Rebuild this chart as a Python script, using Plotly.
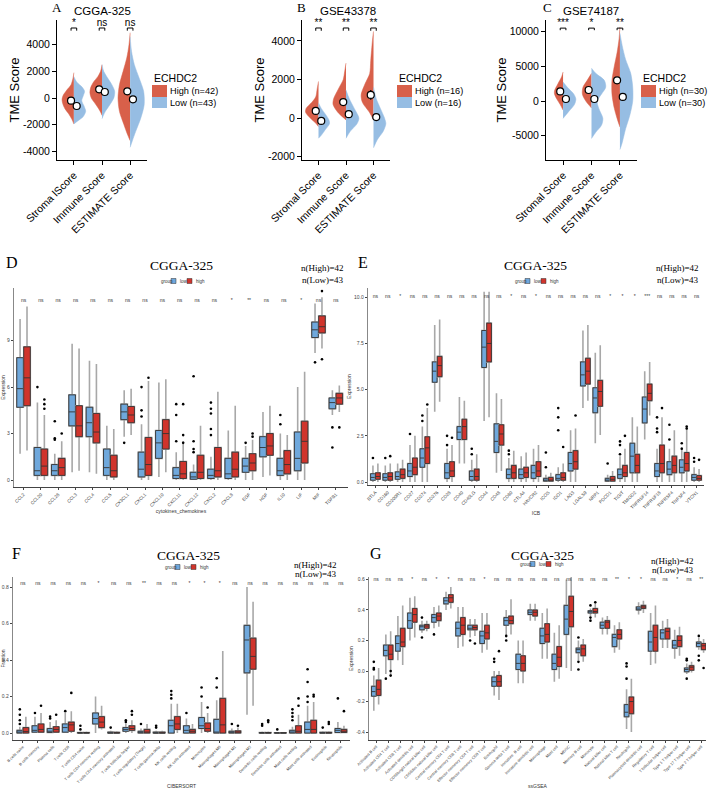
import plotly.graph_objects as go

W, H = 708, 789
def fx(px): return px / W
def fy(py): return 1 - py / H

RED = '#D8604A'
BLUE = '#96BDE3'
BOX_BLUE = '#6FA8DC'
BOX_RED = '#D0342C'
SANS = 'Liberation Sans'
SERIF = 'Liberation Serif'

# ---------------- Panels A-C : split violins ----------------
cats_A = ["Stroma lScore", "Immune Score", "ESTIMATE Score"]
cats_BC = ["Stromal Score", "Immune Score", "ESTIMATE Score"]

# density profiles: levels (score) and half widths (category units)
A_high_lv = [[1900, 1500, 1000, 600, 200, -100, -400, -800, -1200, -1600, -1950],
             [2500, 2000, 1600, 1200, 800, 400, 0, -400, -800, -1100, -1300],
             [4900, 4000, 3000, 2000, 1000, 0, -1000, -2000, -2700, -3200]]
A_high_w = [[0, 0.03, 0.1, 0.25, 0.38, 0.42, 0.4, 0.32, 0.18, 0.07, 0],
            [0, 0.05, 0.15, 0.3, 0.4, 0.43, 0.38, 0.25, 0.12, 0.04, 0],
            [0, 0.04, 0.12, 0.25, 0.38, 0.43, 0.38, 0.22, 0.1, 0]]
A_low_lv = [[1600, 1200, 800, 500, 200, -200, -600, -1000, -1400, -1700, -1950],
            [2500, 2000, 1500, 1000, 500, 0, -500, -1000, -1300, -1550],
            [4600, 3500, 2500, 1500, 500, -500, -1500, -2500, -3200, -3700]]
A_low_w = [[0, 0.1, 0.3, 0.38, 0.34, 0.28, 0.36, 0.42, 0.33, 0.15, 0],
           [0, 0.06, 0.2, 0.35, 0.45, 0.42, 0.28, 0.12, 0.05, 0],
           [0, 0.05, 0.15, 0.32, 0.48, 0.5, 0.38, 0.2, 0.08, 0]]
A_high_mean = [-200, 650, 500]
A_high_err = [150, 150, 250]
A_low_mean = [-600, 450, -100]
A_low_err = [130, 130, 200]
A_sig = ["*", "ns", "ns"]

B_high_lv = [[1900, 1500, 1100, 800, 500, 300, 0, -300, -450],
             [2850, 2400, 2000, 1500, 1000, 700, 300, 0, -100],
             [4500, 4000, 3000, 2300, 1800, 1200, 800, 300, -100]]
B_high_w = [[0, 0.05, 0.1, 0.25, 0.45, 0.47, 0.3, 0.08, 0],
            [0, 0.05, 0.1, 0.28, 0.45, 0.47, 0.3, 0.08, 0],
            [0, 0.04, 0.1, 0.14, 0.3, 0.45, 0.4, 0.15, 0]]
B_low_lv = [[780, 500, 200, -100, -300, -600, -900, -1050],
            [1450, 1000, 500, 0, -300, -700, -1050],
            [1600, 1000, 500, 0, -300, -700, -1100, -1550]]
B_low_w = [[0, 0.1, 0.25, 0.38, 0.4, 0.25, 0.1, 0],
           [0, 0.12, 0.3, 0.47, 0.4, 0.15, 0],
           [0, 0.1, 0.25, 0.4, 0.45, 0.35, 0.15, 0]]
B_high_mean = [370, 830, 1200]
B_high_err = [100, 150, 250]
B_low_mean = [-150, 200, 50]
B_low_err = [100, 100, 200]
B_sig = ["**", "**", "**"]

C_high_lv = [[4200, 3500, 2500, 1500, 1000, 300, -500, -1300],
             [4000, 3000, 2000, 1000, 0, -1000],
             [10700, 9000, 7000, 5000, 3000, 1000, -1000, -2500, -3750]]
C_high_w = [[0, 0.05, 0.18, 0.3, 0.3, 0.22, 0.1, 0],
            [0, 0.15, 0.3, 0.32, 0.2, 0],
            [0, 0.03, 0.1, 0.2, 0.28, 0.28, 0.2, 0.1, 0]]
C_low_lv = [[2750, 2000, 1000, 300, -500, -1500, -2500],
            [4750, 4000, 3000, 2000, 1000, 0, -1000, -2500, -3500, -4500, -5400],
            [9800, 8000, 6000, 4000, 2000, 0, -2000, -4000, -6000, -7000]]
C_low_w = [[0, 0.15, 0.38, 0.45, 0.4, 0.2, 0],
           [0, 0.15, 0.45, 0.5, 0.35, 0.2, 0.25, 0.4, 0.35, 0.15, 0],
           [0, 0.08, 0.2, 0.38, 0.45, 0.45, 0.35, 0.2, 0.08, 0]]
C_high_mean = [1400, 1600, 3000]
C_high_err = [300, 300, 400]
C_low_mean = [300, 300, 600]
C_low_err = [250, 300, 500]
C_sig = ["***", "*", "**"]

# ---------------- Panel D : cytokines/chemokines ----------------
D_cats = ["CCL2", "CCL20", "CCL28", "CCL3", "CCL4", "CCL5", "CX3CL1", "CXCL1", "CXCL10", "CXCL11",
          "CXCL12", "CXCL2", "CXCL8", "EGF", "HGF", "IL10", "LIF", "MIF", "TGFB1"]
D_low_q1 = [4.7, 0.3, 0.3, 3.5, 2.8, 0.3, 3.9, 0.2, 1.4, 0.1, 0.05, 0.1, 0.1, 0.5, 1.5, 0.3, 0.6, 9.2, 4.6]
D_low_med = [5.9, 0.6, 0.6, 4.4, 3.7, 0.8, 4.4, 0.7, 2.4, 0.3, 0.2, 0.3, 0.4, 0.9, 2.1, 0.6, 1.4, 9.7, 5.0]
D_low_q3 = [7.9, 2.1, 1.0, 5.5, 4.7, 2.0, 4.9, 1.8, 3.2, 0.8, 0.5, 0.7, 1.4, 1.4, 2.8, 1.4, 3.1, 10.2, 5.3]
D_low_lo = [1.7, 0.0, 0.0, 0.5, 0.5, 0.0, 2.8, 0.0, 0.2, 0.0, 0.0, 0.0, 0.0, 0.0, 0.2, 0.0, 0.0, 8.2, 4.2]
D_low_hi = [10.4, 5.0, 1.7, 8.8, 7.7, 3.5, 5.8, 3.6, 6.3, 1.8, 1.0, 1.5, 3.2, 2.2, 4.4, 3.0, 6.0, 11.4, 5.8]
D_high_q1 = [4.8, 0.3, 0.3, 2.8, 2.4, 0.2, 3.7, 0.3, 2.0, 0.1, 0.1, 0.2, 0.2, 0.6, 1.6, 0.4, 1.1, 9.5, 4.9]
D_high_med = [6.6, 0.9, 0.8, 3.5, 3.1, 0.6, 4.2, 1.0, 3.0, 0.4, 0.5, 0.6, 0.7, 1.1, 2.2, 1.0, 2.5, 9.9, 5.3]
D_high_q3 = [8.6, 2.0, 1.4, 4.8, 4.3, 1.6, 4.75, 2.75, 3.9, 1.2, 1.6, 2.1, 1.8, 1.7, 3.0, 1.9, 3.8, 10.6, 5.6]
D_high_lo = [1.9, 0.0, 0.0, 0.6, 0.4, 0.0, 2.9, 0.0, 0.5, 0.0, 0.0, 0.0, 0.0, 0.0, 0.3, 0.0, 0.0, 8.5, 4.4]
D_high_hi = [11.2, 4.2, 2.5, 8.5, 7.5, 3.3, 5.9, 6.4, 6.5, 2.5, 3.5, 5.7, 4.8, 2.6, 4.8, 2.9, 7.0, 11.8, 6.1]
D_low_out_idx = [1, 2, 2, 2, 6, 7, 7, 7, 9, 9, 9, 10, 10, 10, 10, 11, 11, 11, 11, 11, 13, 15, 15, 18, 18, 17]
D_low_out_val = [6.0, 2.6, 2.7, 3.8, 2.4, 6.0, 4.5, 4.1, 4.9, 4.2, 2.5, 6.7, 2.5, 2.0, 1.8, 5.0, 4.6, 4.3, 3.3, 2.9, 2.4, 4.2, 3.6, 3.4, 2.1, 7.6]
D_high_out_idx = [1, 1, 1, 2, 7, 9, 9, 9, 13, 13, 18, 17, 17]
D_high_out_val = [5.2, 4.9, 4.6, 3.0, 6.6, 4.9, 2.9, 2.4, 3.0, 2.8, 3.4, 12.2, 7.8]
D_sig = ["ns"] * 12 + ["*", "**", "ns", "ns", "*", "ns", "ns"]

# ---------------- Panel E : ICB ----------------
E_cats = ["BTLA", "CD160", "CD200R1", "CD27", "CD274", "CD276", "CD28", "CD40", "CD40LG", "CD44", "CD48",
          "CD80", "CTLA4", "HAVCR2", "ICOS", "IDO1", "LAG3", "LGALS9", "NRP1", "PDCD1", "TIGIT", "TMIGD2",
          "TNFRSF14", "TNFRSF18", "TNFRSF4", "TNFSF4", "VTCN1"]
E_low_q1 = [0.1, 0.1, 0.15, 0.3, 0.8, 5.4, 0.2, 2.3, 0.1, 6.2, 1.6, 0.2, 0.2, 0.2, 0.05, 0.1, 0.6, 5.2, 3.75, 0.05, 0.2, 0.5, 3.2, 0.3, 0.4, 0.5, 0.1]
E_low_med = [0.25, 0.25, 0.3, 0.6, 1.3, 6.0, 0.5, 2.7, 0.3, 7.3, 2.2, 0.4, 0.4, 0.5, 0.1, 0.2, 1.0, 5.8, 4.55, 0.1, 0.4, 1.4, 3.95, 0.6, 0.7, 0.8, 0.25]
E_low_q3 = [0.45, 0.45, 0.55, 1.0, 1.8, 6.5, 1.0, 3.0, 0.6, 8.2, 3.15, 0.7, 0.7, 0.9, 0.2, 0.4, 1.6, 6.5, 5.1, 0.2, 0.7, 2.1, 4.6, 1.0, 1.1, 1.2, 0.4]
E_low_lo = [0, 0, 0, 0, 0, 3.8, 0, 1.0, 0, 3.3, 0.5, 0, 0, 0, 0, 0, 0, 4.0, 2.1, 0, 0, 0, 2.3, 0, 0, 0, 0]
E_low_hi = [0.9, 0.9, 1.0, 2.0, 3.0, 8.5, 1.8, 4.6, 1.2, 10.3, 4.8, 1.3, 1.4, 1.8, 0.4, 0.8, 2.8, 8.2, 7.0, 0.4, 1.4, 3.5, 6.0, 1.8, 1.8, 1.9, 0.8]
E_high_q1 = [0.15, 0.1, 0.2, 0.4, 1.0, 5.7, 0.3, 2.3, 0.1, 6.5, 2.0, 0.2, 0.25, 0.3, 0.05, 0.1, 0.7, 5.3, 4.1, 0.05, 0.3, 0.5, 4.4, 0.5, 0.5, 0.6, 0.1]
E_high_med = [0.3, 0.3, 0.4, 0.8, 1.85, 6.3, 0.6, 3.0, 0.3, 7.5, 2.6, 0.5, 0.5, 0.6, 0.1, 0.25, 1.1, 6.0, 4.9, 0.15, 0.5, 0.9, 4.8, 1.0, 0.9, 1.0, 0.2]
E_high_q3 = [0.5, 0.5, 0.7, 1.3, 2.45, 6.8, 1.1, 3.4, 0.7, 8.6, 3.1, 0.9, 0.8, 1.1, 0.25, 0.5, 1.7, 6.7, 5.5, 0.3, 0.9, 1.5, 5.3, 2.0, 1.4, 1.6, 0.35]
E_high_lo = [0, 0, 0, 0, 0, 4.35, 0, 1.0, 0, 3.5, 0.6, 0, 0, 0, 0, 0, 0, 4.4, 2.55, 0, 0, 0, 3.6, 0, 0, 0, 0]
E_high_hi = [1.0, 1.0, 1.2, 2.5, 4.0, 8.8, 2.0, 4.4, 1.5, 10.3, 4.5, 1.7, 1.6, 2.0, 0.5, 1.0, 2.9, 8.5, 7.4, 0.6, 1.8, 3.0, 6.5, 3.5, 2.8, 2.9, 0.7]
E_low_out_idx = [0, 1, 3, 4, 4, 6, 6, 8, 8, 11, 11, 14, 14, 15, 15, 15, 19, 20, 20, 20, 23, 23, 23, 24, 24, 25, 25, 26, 26]
E_low_out_val = [1.3, 1.3, 2.6, 3.3, 3.6, 2.5, 2.0, 1.5, 1.8, 1.5, 1.7, 0.8, 1.6, 2.8, 4.0, 3.5, 1.0, 2.2, 2.0, 1.5, 3.5, 2.9, 2.7, 3.1, 2.3, 2.1, 1.8, 1.3, 1.1]
E_high_out_idx = [1, 4, 6, 15, 16, 20, 23, 25, 25, 26]
E_high_out_val = [1.4, 4.2, 2.4, 1.9, 3.6, 2.5, 4.0, 2.9, 3.0, 1.2]
E_sig = ["ns", "ns", "*", "ns", "ns", "ns", "ns", "ns", "ns", "ns", "ns", "*", "ns", "*", "ns", "ns",
         "ns", "ns", "ns", "*", "*", "*", "***", "ns", "ns", "ns", "ns"]

# ---------------- Panel F : CIBERSORT ----------------
F_cats = ["B cells naive", "B cells memory", "Plasma cells", "T cells CD8", "T cells CD4 naive",
          "T cells CD4 memory resting", "T cells CD4 memory activated", "T cells follicular helper",
          "T cells regulatory (Tregs)", "T cells gamma delta", "NK cells resting", "NK cells activated",
          "Monocytes", "Macrophages M0", "Macrophages M1", "Macrophages M2", "Dendritic cells resting",
          "Dendritic cells activated", "Mast cells resting", "Mast cells activated", "Eosinophils", "Neutrophils"]
F_low_q1 = [0, 0.005, 0.003, 0.005, 0, 0.05, 0, 0.01, 0, 0, 0, 0, 0.025, 0, 0, 0.33, 0, 0, 0, 0, 0, 0.003]
F_low_med = [0.005, 0.015, 0.01, 0.03, 0, 0.08, 0, 0.02, 0.003, 0, 0.04, 0.015, 0.04, 0.005, 0.003, 0.51, 0, 0, 0.005, 0.02, 0, 0.015]
F_low_q3 = [0.015, 0.04, 0.025, 0.05, 0.003, 0.11, 0.005, 0.03, 0.01, 0.005, 0.07, 0.04, 0.085, 0.075, 0.01, 0.59, 0.003, 0.002, 0.015, 0.06, 0.004, 0.025]
F_low_lo = [0, 0, 0, 0, 0, 0.0, 0, 0, 0, 0, 0, 0, 0, 0, 0, 0.1, 0, 0, 0, 0, 0, 0]
F_low_hi = [0.035, 0.09, 0.06, 0.11, 0.008, 0.2, 0.012, 0.05, 0.025, 0.012, 0.16, 0.08, 0.17, 0.18, 0.025, 0.8, 0.008, 0.005, 0.035, 0.15, 0.01, 0.06]
F_high_q1 = [0, 0.005, 0.005, 0.01, 0, 0.03, 0, 0.015, 0, 0, 0.02, 0, 0.01, 0, 0, 0.35, 0, 0, 0, 0, 0, 0.003]
F_high_med = [0.008, 0.02, 0.02, 0.045, 0, 0.06, 0, 0.025, 0.005, 0, 0.05, 0.01, 0.025, 0.045, 0.005, 0.42, 0, 0, 0.01, 0.02, 0, 0.01]
F_high_q3 = [0.03, 0.05, 0.035, 0.06, 0.003, 0.09, 0.004, 0.04, 0.02, 0.005, 0.09, 0.02, 0.055, 0.19, 0.012, 0.52, 0.003, 0.002, 0.04, 0.07, 0.004, 0.02]
F_high_lo = [0, 0, 0, 0, 0, 0.02, 0, 0, 0, 0, 0, 0, 0, 0, 0, 0.15, 0, 0, 0, 0, 0, 0]
F_high_hi = [0.09, 0.11, 0.07, 0.12, 0.008, 0.15, 0.01, 0.07, 0.05, 0.012, 0.16, 0.05, 0.11, 0.45, 0.03, 0.72, 0.008, 0.005, 0.1, 0.17, 0.01, 0.04]
F_low_out_idx = [0, 0, 0, 0, 1, 2, 2, 3, 4, 4, 6, 7, 7, 8, 9, 9, 10, 10, 10, 11, 12, 12, 13, 13, 14, 16, 16, 17, 18, 18, 18, 18, 19, 19, 19, 19, 20, 21]
F_low_out_val = [0.05, 0.07, 0.1, 0.13, 0.11, 0.08, 0.09, 0.12, 0.02, 0.04, 0.03, 0.06, 0.07, 0.05, 0.03, 0.04, 0.19, 0.21, 0.23, 0.11, 0.2, 0.25, 0.25, 0.3, 0.05, 0.04, 0.05, 0.02, 0.07, 0.09, 0.11, 0.13, 0.17, 0.2, 0.28, 0.35, 0.03, 0.19]
F_high_out_idx = [1, 2, 3, 7, 7, 12, 14, 16, 16, 18, 18, 19, 19, 20, 20, 21]
F_high_out_val = [0.15, 0.1, 0.22, 0.1, 0.12, 0.14, 0.04, 0.06, 0.07, 0.15, 0.19, 0.2, 0.21, 0.05, 0.06, 0.12]
F_sig = ["ns", "ns", "ns", "ns", "ns", "*", "ns", "ns", "**", "ns", "ns", "*", "*", "*", "ns", "ns",
         "ns", "ns", "ns", "ns", "ns", "ns"]

# ---------------- Panel G : ssGSEA ----------------
G_cats = ["Activated B cell", "Activated CD4 T cell", "Activated CD8 T cell", "Activated dendritic cell",
          "CD56bright natural killer cell", "CD56dim natural killer cell", "Central memory CD4 T cell",
          "Central memory CD8 T cell", "Effector memeory CD4 T cell", "Effector memeory CD8 T cell",
          "Eosinophil", "Gamma delta T cell", "Immature  B cell", "Immature dendritic cell", "Macrophage",
          "Mast cell", "MDSC", "Memory B cell", "Monocyte", "Natural killer cell", "Natural killer T cell",
          "Neutrophil", "Plasmacytoid dendritic cell", "Regulatory T cell", "T follicular helper cell",
          "Type 1 T helper cell", "Type 17 T helper cell", "Type 2 T helper cell"]
G_low_q1 = [-0.165, 0.1, 0.13, 0.28, 0.27, 0.32, 0.44, 0.23, 0.27, 0.18, -0.1, 0.3, 0.01, 0.37, 0.18, 0.01, 0.24, 0.12, 0.38, 0.28, 0.16, -0.3, 0.4, 0.13, 0.21, 0.15, -0.005, 0.16]
G_low_med = [-0.135, 0.135, 0.18, 0.33, 0.29, 0.35, 0.46, 0.28, 0.28, 0.23, -0.07, 0.33, 0.05, 0.385, 0.23, 0.05, 0.34, 0.14, 0.39, 0.3, 0.22, -0.27, 0.405, 0.19, 0.25, 0.17, 0.01, 0.18]
G_low_q3 = [-0.1, 0.17, 0.23, 0.38, 0.3, 0.37, 0.48, 0.32, 0.3, 0.26, -0.04, 0.35, 0.11, 0.4, 0.28, 0.11, 0.43, 0.15, 0.395, 0.32, 0.24, -0.22, 0.42, 0.26, 0.27, 0.2, 0.02, 0.19]
G_low_lo = [-0.26, -0.02, 0.07, 0.2, 0.25, 0.28, 0.4, 0.15, 0.22, 0.12, -0.16, 0.22, -0.08, 0.33, 0.08, -0.07, 0.02, 0.07, 0.36, 0.24, 0.12, -0.38, 0.37, 0.04, 0.15, 0.08, -0.02, 0.14]
G_low_hi = [-0.03, 0.24, 0.36, 0.48, 0.33, 0.42, 0.52, 0.42, 0.34, 0.38, 0.0, 0.4, 0.2, 0.44, 0.38, 0.25, 0.6, 0.2, 0.41, 0.35, 0.3, -0.12, 0.45, 0.38, 0.33, 0.27, 0.05, 0.22]
G_high_q1 = [-0.16, 0.075, 0.16, 0.32, 0.28, 0.33, 0.45, 0.24, 0.27, 0.21, -0.1, 0.31, 0.0, 0.36, 0.19, 0.03, 0.29, 0.1, 0.38, 0.28, 0.21, -0.28, 0.41, 0.13, 0.21, 0.16, 0.005, 0.14]
G_high_med = [-0.12, 0.11, 0.19, 0.37, 0.295, 0.36, 0.48, 0.3, 0.285, 0.25, -0.07, 0.33, 0.05, 0.385, 0.24, 0.09, 0.39, 0.145, 0.39, 0.32, 0.24, -0.2, 0.42, 0.22, 0.26, 0.2, 0.025, 0.165]
G_high_q3 = [-0.06, 0.17, 0.28, 0.41, 0.305, 0.38, 0.5, 0.35, 0.3, 0.3, -0.03, 0.36, 0.1, 0.4, 0.31, 0.16, 0.49, 0.17, 0.41, 0.33, 0.27, -0.17, 0.43, 0.3, 0.28, 0.23, 0.035, 0.18]
G_high_lo = [-0.22, -0.03, 0.04, 0.22, 0.26, 0.29, 0.41, 0.16, 0.23, 0.14, -0.19, 0.24, -0.08, 0.33, 0.08, -0.05, 0.0, 0.06, 0.35, 0.24, 0.14, -0.4, 0.38, 0.05, 0.15, 0.1, -0.01, 0.12]
G_high_hi = [0.02, 0.26, 0.43, 0.49, 0.33, 0.43, 0.55, 0.42, 0.34, 0.38, 0.0, 0.47, 0.2, 0.44, 0.41, 0.3, 0.62, 0.21, 0.44, 0.36, 0.32, -0.05, 0.46, 0.43, 0.34, 0.29, 0.06, 0.21]
G_low_out_idx = [0, 0, 0, 1, 4, 4, 5, 8, 10, 10, 11, 11, 17, 17, 17, 18, 18, 18, 21, 21, 21, 26, 26, 26, 27, 27, 27]
G_low_out_val = [0.06, 0.02, 0.01, -0.05, 0.35, 0.22, 0.24, 0.2, 0.08, 0.06, 0.2, 0.23, 0.22, 0.06, 0.01, 0.43, 0.35, 0.33, 0.05, 0.03, -0.05, 0.08, 0.07, -0.05, 0.23, 0.1, 0.07]
G_high_out_idx = [1, 1, 8, 10, 18, 27]
G_high_out_val = [-0.03, 0.0, 0.18, 0.13, 0.45, 0.02]
G_sig = ["ns", "ns", "ns", "*", "ns", "*", "*", "ns", "ns", "*", "ns", "ns", "ns", "ns", "ns", "ns",
         "ns", "ns", "ns", "ns", "**", "*", "*", "ns", "ns", "*", "ns", "**"]

fig = go.Figure()

def xr(k): return 'x' if k == 1 else f'x{k}'
def yr(k): return 'y' if k == 1 else f'y{k}'

# ---------- violin panels ----------
def violin_panel(k, hl, hw, ll, lw_, hm, he, lm, le, sig, text_y, sig_y, tick_y):
    for i in range(3):
        c = i + 1
        fig.add_trace(go.Scatter(x=[c - w for w in hw[i]], y=hl[i], mode='lines', fill='toself',
                                 fillcolor=RED, line=dict(color=RED, width=0.5, shape='spline', smoothing=0.8),
                                 xaxis=xr(k), yaxis=yr(k), showlegend=False, hoverinfo='skip'))
        fig.add_trace(go.Scatter(x=[c + w for w in lw_[i]], y=ll[i], mode='lines', fill='toself',
                                 fillcolor=BLUE, line=dict(color=BLUE, width=0.5, shape='spline', smoothing=0.8),
                                 xaxis=xr(k), yaxis=yr(k), showlegend=False, hoverinfo='skip'))
    xs_h = [i + 1 - 0.1 for i in range(3)]
    xs_l = [i + 1 + 0.1 for i in range(3)]
    for xs, m, e in ((xs_h, hm, he), (xs_l, lm, le)):
        fig.add_trace(go.Scatter(x=xs, y=m, mode='markers',
                                 error_y=dict(type='data', array=e, color='black', thickness=1.3, width=0),
                                 marker=dict(size=7, color='white', line=dict(color='black', width=1.2)),
                                 xaxis=xr(k), yaxis=yr(k), showlegend=False, hoverinfo='skip'))
    for i in range(3):
        c = i + 1
        fig.add_trace(go.Scatter(x=[c - 0.1, c - 0.1, c + 0.1, c + 0.1],
                                 y=[tick_y, sig_y, sig_y, tick_y], mode='lines',
                                 line=dict(color='black', width=1), xaxis=xr(k), yaxis=yr(k),
                                 showlegend=False, hoverinfo='skip'))
    fig.add_trace(go.Scatter(x=[1, 2, 3], y=[text_y] * 3, text=sig, mode='text', textposition='middle center',
                             textfont=dict(family=SANS, size=10, color='black'),
                             xaxis=xr(k), yaxis=yr(k), showlegend=False, hoverinfo='skip', cliponaxis=False))

violin_panel(1, A_high_lv, A_high_w, A_low_lv, A_low_w, A_high_mean, A_high_err, A_low_mean, A_low_err,
             A_sig, 5600, 5250, 5050)
violin_panel(2, B_high_lv, B_high_w, B_low_lv, B_low_w, B_high_mean, B_high_err, B_low_mean, B_low_err,
             B_sig, 4900, 4675, 4530)
violin_panel(3, C_high_lv, C_high_w, C_low_lv, C_low_w, C_high_mean, C_high_err, C_low_mean, C_low_err,
             C_sig, 11150, 10530, 10230)

# ---------- box panels ----------
def box_panel(k, low, high, low_out, high_out, sig, sig_y, width=0.38, off=0.2):
    n = len(low[0])
    for stats, out, color, d in ((low, low_out, BOX_BLUE, -off), (high, high_out, BOX_RED, off)):
        q1, med, q3, lo, hi = stats
        xs = [i + d for i in range(n)]
        fig.add_trace(go.Box(x=xs, q1=q1, median=med, q3=q3, lowerfence=lo, upperfence=hi,
                             width=width, fillcolor=color, line=dict(color='#A8A8A8', width=1.6),
                             whiskerwidth=0, boxpoints=False, xaxis=xr(k), yaxis=yr(k),
                             showlegend=False, hoverinfo='skip'))
        fig.add_trace(go.Box(x=xs, q1=q1, median=med, q3=q3, lowerfence=q1, upperfence=q3,
                             width=width, fillcolor=color, line=dict(color='#333333', width=0.9),
                             whiskerwidth=0, boxpoints=False, xaxis=xr(k), yaxis=yr(k),
                             showlegend=False, hoverinfo='skip'))
        oi, ov = out
        fig.add_trace(go.Scatter(x=[i + d for i in oi], y=ov, mode='markers',
                                 marker=dict(size=2.6, color='black'), xaxis=xr(k), yaxis=yr(k),
                                 showlegend=False, hoverinfo='skip'))
    fig.add_trace(go.Scatter(x=list(range(n)), y=[sig_y] * n, text=sig, mode='text',
                             textfont=dict(family=SANS, size=5, color='#333333'),
                             xaxis=xr(k), yaxis=yr(k), showlegend=False, hoverinfo='skip'))

box_panel(4, (D_low_q1, D_low_med, D_low_q3, D_low_lo, D_low_hi),
          (D_high_q1, D_high_med, D_high_q3, D_high_lo, D_high_hi),
          (D_low_out_idx, D_low_out_val), (D_high_out_idx, D_high_out_val), D_sig, 11.6)
box_panel(5, (E_low_q1, E_low_med, E_low_q3, E_low_lo, E_low_hi),
          (E_high_q1, E_high_med, E_high_q3, E_high_lo, E_high_hi),
          (E_low_out_idx, E_low_out_val), (E_high_out_idx, E_high_out_val), E_sig, 10.0)
box_panel(6, (F_low_q1, F_low_med, F_low_q3, F_low_lo, F_low_hi),
          (F_high_q1, F_high_med, F_high_q3, F_high_lo, F_high_hi),
          (F_low_out_idx, F_low_out_val), (F_high_out_idx, F_high_out_val), F_sig, 0.82)
box_panel(7, (G_low_q1, G_low_med, G_low_q3, G_low_lo, G_low_hi),
          (G_high_q1, G_high_med, G_high_q3, G_high_lo, G_high_hi),
          (G_low_out_idx, G_low_out_val), (G_high_out_idx, G_high_out_val), G_sig, 0.6)

# ---------- axes ----------
layout = dict(width=W, height=H, margin=dict(l=0, r=0, t=0, b=0, autoexpand=False), paper_bgcolor='white',
              plot_bgcolor='rgba(0,0,0,0)', showlegend=False)

def vaxes(k, xd, yd, yrange, cats, yticks):
    layout[f'xaxis{k if k > 1 else ""}'] = dict(
        domain=[fx(xd[0]), fx(xd[1])], anchor=yr(k), range=[0.4, 3.6], tickvals=[1, 2, 3], ticktext=cats,
        tickangle=-45, showline=True, linecolor='black', linewidth=1, ticks='outside', ticklen=4,
        tickcolor='black', tickfont=dict(family=SANS, size=10.5, color='black'), showgrid=False,
        zeroline=False, fixedrange=True, automargin=False)
    layout[f'yaxis{k if k > 1 else ""}'] = dict(
        domain=[fy(yd[1]), fy(yd[0])], anchor=xr(k), range=yrange, tickvals=yticks,
        ticktext=[str(v) for v in yticks],
        showline=True, linecolor='black', linewidth=1, ticks='outside', ticklen=4, tickcolor='black',
        tickfont=dict(family=SANS, size=10.5, color='black'), showgrid=False, zeroline=False,
        title=dict(text='TME Score', font=dict(family=SANS, size=13, color='black'), standoff=0),
        fixedrange=True, automargin=False)

vaxes(1, (57, 147), (20, 160), [-4650, 5850], cats_A, [-4000, -2000, 0, 2000, 4000])
vaxes(2, (302, 390), (20, 160), [-2180, 5090], cats_BC, [-2000, 0, 2000, 4000])
vaxes(3, (546, 637), (20, 160), [-8500, 11700], cats_BC, [-5000, 0, 5000, 10000])

def baxes(k, xd, yd, xrange, yrange, cats, yticks, ytext, ylabel, xlabel, xfont):
    layout[f'xaxis{k}'] = dict(
        domain=[fx(xd[0]), fx(xd[1])], anchor=yr(k), range=xrange, tickvals=list(range(len(cats))),
        ticktext=cats, tickangle=-45, showline=True, linecolor='#444444', linewidth=1, ticks='outside',
        ticklen=2, tickcolor='#444444', tickfont=dict(family=SANS, size=xfont, color='#444444'),
        showgrid=False, zeroline=False, fixedrange=True, automargin=False,
        title=dict(text=xlabel, font=dict(family=SANS, size=5, color='#333333'), standoff=2))
    layout[f'yaxis{k}'] = dict(
        domain=[fy(yd[1]), fy(yd[0])], anchor=xr(k), range=yrange, tickvals=yticks, ticktext=ytext,
        showline=True, linecolor='#888888', linewidth=1.4, ticks='outside', ticklen=2, tickcolor='#444444',
        tickfont=dict(family=SANS, size=5, color='#444444'), showgrid=False, zeroline=False,
        title=dict(text=ylabel, font=dict(family=SANS, size=5, color='#333333'), standoff=2),
        fixedrange=True, automargin=False)

baxes(4, (14, 348), (288, 487), [-0.55, 18.7], [-0.45, 12.4], D_cats, [0, 3, 6, 9], ['0', '3', '6', '9'],
      'Expression', 'cytokines_chemokines', 4.6)
baxes(5, (368, 704), (288, 485), [-0.6, 26.6], [-0.16, 10.5], E_cats, [0, 2.5, 5, 7.5, 10],
      ['0.0', '2.5', '5.0', '7.5', '10.0'], 'Expression', 'ICB', 4.6)
baxes(6, (13, 350), (577, 740), [-0.65, 21.6], [-0.038, 0.855], F_cats, [0, 0.2, 0.4, 0.6, 0.8],
      ['0.0', '0.2', '0.4', '0.6', '0.8'], 'Fraction', 'CIBERSORT', 3.9)
baxes(7, (369, 706), (577, 740), [-0.6, 27.4], [-0.452, 0.616], G_cats, [-0.4, -0.2, 0, 0.2, 0.4, 0.6],
      ['-0.4', '-0.2', '0.0', '0.2', '0.4', '0.6'], 'Expression', 'ssGSEA', 3.9)

fig.update_layout(**layout)

# ---------- annotations / legends ----------
ann = []
shapes = []
def text(px, py, s, size, family=SANS, xanchor='center', color='black'):
    ann.append(dict(x=fx(px), y=fy(py), xref='paper', yref='paper', text=s, showarrow=False,
                    xanchor=xanchor, yanchor='middle', font=dict(family=family, size=size, color=color)))

text(57, 7, 'A', 13, SERIF)
text(102, 11, 'CGGA-325', 11.5)
text(301, 7, 'B', 13, SERIF)
text(348, 11, 'GSE43378', 11.5)
text(547, 7, 'C', 13, SERIF)
text(591, 11, 'GSE74187', 11.5)

for lx, nh, nl in ((152, 42, 43), (397, 16, 16), (641, 30, 30)):
    text(lx, 78, 'ECHDC2', 10.5, xanchor='left')
    shapes.append(dict(type='rect', xref='paper', yref='paper', x0=fx(lx), x1=fx(lx + 15),
                       y0=fy(97), y1=fy(85), fillcolor=RED, line=dict(width=0)))
    shapes.append(dict(type='rect', xref='paper', yref='paper', x0=fx(lx), x1=fx(lx + 15),
                       y0=fy(108), y1=fy(97), fillcolor=BLUE, line=dict(width=0)))
    text(lx + 16, 91, f'High (n={nh})', 9.2, xanchor='left')
    text(lx + 16, 102.5, f'Low (n={nl})', 9.2, xanchor='left')

for letter, lx, ly, tx, ty, nx, ny1, ny2, gx, gy in (
        ('D', 12, 262, 181, 265, 346, 268, 280, 181, 281),
        ('E', 363, 262, 535, 265, 701, 268, 280, 535, 281),
        ('F', 16, 553, 188, 555, 339, 565, 574, 185, 567),
        ('G', 376, 553, 542, 555, 696, 561, 570, 540, 564)):
    text(lx, ly, letter, 16, SERIF)
    text(tx, ty, 'CGGA-325', 13.5, SERIF)
    text(nx, ny1, 'n(High)=42', 9, SERIF, xanchor='right')
    text(nx, ny2, 'n(Low)=43', 9, SERIF, xanchor='right')
    text(gx - 22, gy, 'group', 4.5, xanchor='left', color='#333333')
    shapes.append(dict(type='rect', xref='paper', yref='paper', x0=fx(gx - 10), x1=fx(gx - 5),
                       y0=fy(gy + 2.5), y1=fy(gy - 2.5), fillcolor=BOX_BLUE, line=dict(color='#333', width=0.5)))
    text(gx - 3, gy, 'low', 4.5, xanchor='left', color='#333333')
    shapes.append(dict(type='rect', xref='paper', yref='paper', x0=fx(gx + 6), x1=fx(gx + 11),
                       y0=fy(gy + 2.5), y1=fy(gy - 2.5), fillcolor=BOX_RED, line=dict(color='#333', width=0.5)))
    text(gx + 13, gy, 'high', 4.5, xanchor='left', color='#333333')

fig.update_layout(annotations=ann, shapes=shapes)
fig.write_html("out.html")
